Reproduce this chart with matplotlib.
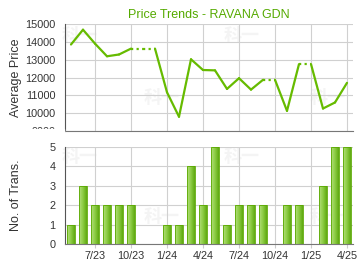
import numpy as np
import matplotlib.pyplot as plt
from matplotlib.patches import Rectangle
from matplotlib.colors import LinearSegmentedColormap

# months from 5/23 to 4/25
months = ["5/23", "6/23", "7/23", "8/23", "9/23", "10/23", "11/23", "12/23",
          "1/24", "2/24", "3/24", "4/24", "5/24", "6/24", "7/24", "8/24",
          "9/24", "10/24", "11/24", "12/24", "1/25", "2/25", "3/25", "4/25"]
# average price (None = no transactions that month)
price = [13850, 14680, 13900, 13190, 13290, 13620, None, None,
         11170, 9800, 13020, 12420, 12400, 11360, 11960, 11320,
         11870, None, 10130, 12750, None, 10260, 10600, 11700]
trans = [1, 3, 2, 2, 2, 2, 0, 0, 1, 1, 4, 2, 5, 1, 2, 2, 2, 0, 2, 2, 0, 3, 5, 5]
tick_labels = ["7/23", "10/23", "1/24", "4/24", "7/24", "10/24", "1/25", "4/25"]
price_ticks = [9000, 10000, 11000, 12000, 13000, 14000, 15000]

green = "#66bb00"
x = list(range(len(months)))
tick_pos = [months.index(t) for t in tick_labels]

plt.rcParams["font.family"] = ["Liberation Sans", "Noto Sans CJK SC"]
fig = plt.figure(figsize=(3.6, 2.7), dpi=100)
ax1 = fig.add_axes([65 / 360, 1 - 131 / 270, 288 / 360, 107 / 270])
ax2 = fig.add_axes([65 / 360, 1 - 244 / 270, 288 / 360, 97 / 270])

# line: missing months carry the previous value, drawn dotted
last = None
for i in range(len(x) - 1):
    a = price[i] if price[i] is not None else last
    last = a
    b = price[i + 1] if price[i + 1] is not None else a
    style = (0, (1, 1.5)) if price[i + 1] is None else "-"
    ax1.plot([x[i], x[i + 1]], [a, b], color=green, lw=1.6, ls=style,
             solid_capstyle="round")

ax1.set_ylim(9000, 15000)
ax1.set_yticks(price_ticks)
ax1.set_ylabel("Average Price", fontsize=9, color="#333333")
ax1.set_title("Price Trends - RAVANA GDN", fontsize=9, color="#55aa00", pad=4)

# bars with a light-to-dark horizontal gradient
cmap = LinearSegmentedColormap.from_list("g", ["#b4e07c", "#8ccc44", "#5faa10"])
grad = np.linspace(0, 1, 32).reshape(1, -1)
bars = ax2.bar(x, trans, width=0.65, color="none", edgecolor="#5aa800", lw=0.6)
for b in bars:
    if b.get_height() == 0:
        continue
    im = ax2.imshow(grad, cmap=cmap, aspect="auto", zorder=2,
                    extent=[b.get_x(), b.get_x() + b.get_width(), 0, b.get_height()])
    im.set_clip_path(b)
    b.set_zorder(3)
ax2.set_ylim(0, 5)
ax2.set_yticks(range(6))
ax2.set_ylabel("No. of Trans.", fontsize=9, color="#333333")

for ax in (ax1, ax2):
    ax.set_facecolor("none")
    ax.set_xlim(-0.5, 23.5)
    ax.set_xticks(tick_pos)
    ax.grid(True, color="#d0d0d0", lw=0.8)
    ax.set_axisbelow(True)
    for s in ("top", "right"):
        ax.spines[s].set_visible(False)
    ax.spines["left"].set_color("#555555")
    ax.spines["bottom"].set_color("#777777")
    ax.tick_params(axis="y", length=0, labelsize=7.8, colors="#333333", pad=7)
    ax.tick_params(axis="x", length=0, labelsize=7.8, colors="#333333", pad=4)
    ax.yaxis.set_label_coords(-0.15, 0.5)
ax1.set_xticklabels([])
ax2.set_xticklabels(tick_labels)
ax2.tick_params(axis="x", length=3, color="#cccccc", pad=2)

# faint watermark
for wx, wy in [(0.22, 0.87), (0.67, 0.87), (0.45, 0.64), (0.91, 0.64),
               (0.22, 0.42), (0.67, 0.42), (0.45, 0.2), (0.91, 0.2)]:
    fig.text(wx, wy, "科一", fontsize=13, color="#f4f4f4", weight="bold",
             family=["Noto Sans CJK SC"], ha="center", va="center", zorder=-1)

# hide the lower part of the 9000 label like the original
fig.patches.append(Rectangle((0, 1 - 141 / 270), 64 / 360, 12 / 270,
                             transform=fig.transFigure, color="white", zorder=5))

plt.savefig("out.png", dpi=100)
plt.close()
